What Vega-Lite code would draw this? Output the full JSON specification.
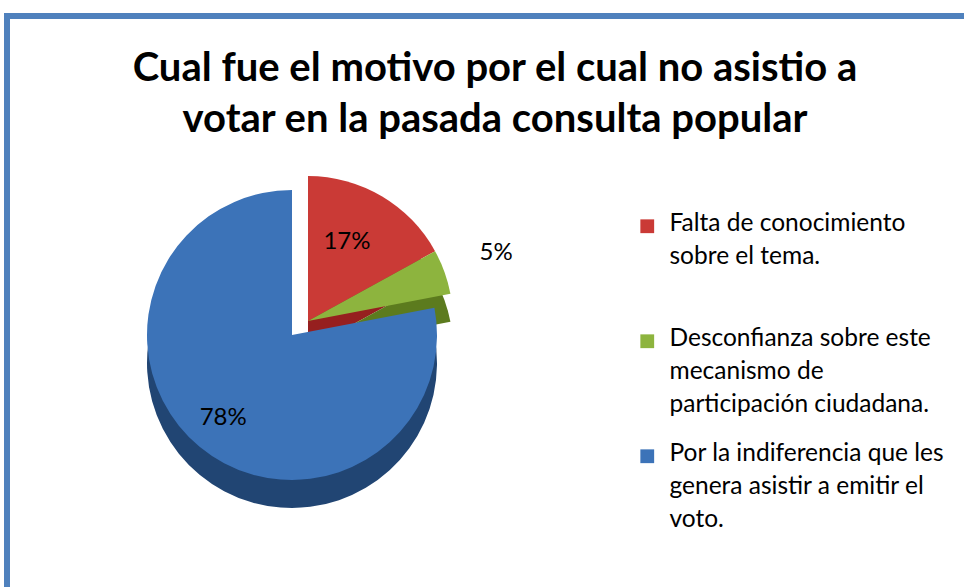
{
  "$schema": "https://vega.github.io/schema/vega-lite/v6.json",
  "autosize": {"type": "none"},
  "width": 1000,
  "height": 600,
  "padding": {"left": 7, "top": 16, "right": 0, "bottom": 0},
  "background": "white",
  "view": {"stroke": "#4F81BD", "strokeWidth": 6, "fill": "white"},
  "title": {
    "text": ["Cual fue el motivo por el cual no asistio a", "votar en la pasada consulta popular"],
    "anchor": "middle",
    "frame": "group",
    "dx": -12,
    "offset": -124,
    "font": "Lato",
    "fontSize": 40,
    "fontWeight": "bold",
    "color": "#000000",
    "lineHeight": 51
  },
  "config": {
    "view": {"stroke": "#4F81BD", "strokeWidth": 6, "fill": "white"},
    "font": "Lato"
  },
  "data": {
    "values": [
      {"motivo": "Falta de conocimiento sobre el tema.", "porcentaje": 17, "orden": 1, "etiqueta": "17%"},
      {"motivo": "Desconfianza sobre este mecanismo de participación ciudadana.", "porcentaje": 5, "orden": 2, "etiqueta": "5%"},
      {"motivo": "Por la indiferencia que les genera asistir a emitir el voto.", "porcentaje": 78, "orden": 3, "etiqueta": "78%"}
    ]
  },
  "encoding": {
    "theta": {"field": "porcentaje", "type": "quantitative", "stack": true},
    "order": {"field": "orden", "type": "quantitative"}
  },
  "layer": [
    {
      "mark": {"type": "arc", "x": 285, "y": 347, "outerRadius": 145},
      "encoding": {
        "color": {"condition": [{"test": "datum.orden == 1", "value": "#961F1F"}, {"test": "datum.orden == 2", "value": "#5C7B1E"}], "value": "#214573"},
        "fillOpacity": {"condition": {"test": "datum.orden == 3", "value": 1}, "value": 0}
      }
    },
    {
      "mark": {"type": "arc", "x": 301, "y": 333, "outerRadius": 145},
      "encoding": {
        "color": {"condition": [{"test": "datum.orden == 1", "value": "#961F1F"}, {"test": "datum.orden == 2", "value": "#5C7B1E"}], "value": "#214573"},
        "fillOpacity": {"condition": {"test": "datum.orden == 3", "value": 0}, "value": 1}
      }
    },
    {
      "mark": {"type": "arc", "x": 301, "y": 305, "outerRadius": 145},
      "encoding": {
        "color": {"field": "motivo", "type": "nominal",
          "scale": {"domain": ["Falta de conocimiento sobre el tema.", "Desconfianza sobre este mecanismo de participación ciudadana.", "Por la indiferencia que les genera asistir a emitir el voto."], "range": ["#CA3A36", "#8DB43E", "#3C73B8"]},
          "legend": {
            "orient": "none",
            "legendX": 628,
            "legendY": 198,
            "title": null,
            "symbolType": "square",
            "symbolSize": 190,
            "symbolStrokeWidth": 0,
            "labelFont": "Lato",
            "labelFontSize": 24.5,
            "labelColor": "#000000",
            "labelLimit": 400,
            "labelOffset": 10,
            "rowPadding": 24,
            "labelExpr": "datum.label == 'Falta de conocimiento sobre el tema.' ? ['Falta de conocimiento', 'sobre el tema.', ' '] : datum.label == 'Desconfianza sobre este mecanismo de participación ciudadana.' ? ['Desconfianza sobre este', 'mecanismo de', 'participación ciudadana.'] : ['Por la indiferencia que les', 'genera asistir a emitir el', 'voto.']",
            "encode": {
              "labels": {"update": {"lineHeight": {"value": 33}, "baseline": {"value": "top"}, "dy": {"value": -14}}}
            }
          }
        },
        "fillOpacity": {"condition": {"test": "datum.orden == 3", "value": 0}, "value": 1}
      }
    },
    {
      "mark": {"type": "arc", "x": 285, "y": 319, "outerRadius": 145},
      "encoding": {
        "color": {"field": "motivo", "type": "nominal"},
        "fillOpacity": {"condition": {"test": "datum.orden == 3", "value": 1}, "value": 0}
      }
    },
    {
      "mark": {"type": "text", "x": 285, "y": 319, "radius": 108, "font": "Lato", "fontSize": 24, "color": "#000000"},
      "encoding": {
        "text": {"field": "etiqueta"},
        "opacity": {"condition": {"test": "datum.orden == 2", "value": 0}, "value": 1}
      }
    },
    {
      "mark": {"type": "text", "x": 301, "y": 305, "radius": 200, "font": "Lato", "fontSize": 24, "color": "#000000"},
      "encoding": {
        "text": {"field": "etiqueta"},
        "opacity": {"condition": {"test": "datum.orden == 2", "value": 1}, "value": 0}
      }
    }
  ]
}
